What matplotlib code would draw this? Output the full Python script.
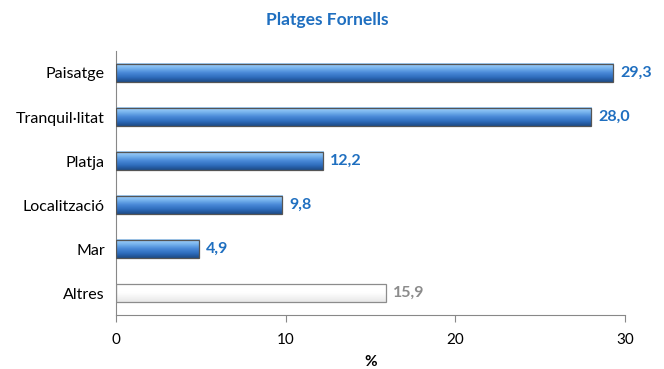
import matplotlib
matplotlib.use("Agg")
import matplotlib.pyplot as plt
import numpy as np
from matplotlib.colors import LinearSegmentedColormap

plt.rcParams['font.family'] = ['Lato', 'DejaVu Sans']

categories = ["Paisatge", "Tranquil·litat", "Platja", "Localització", "Mar", "Altres"]
values = [29.3, 28.0, 12.2, 9.8, 4.9, 15.9]
labels = ["29,3", "28,0", "12,2", "9,8", "4,9", "15,9"]
xticks = [0, 10, 20, 30]

fig = plt.figure(figsize=(6.64, 3.69), dpi=100)
ax = fig.add_axes([0.1747, 0.1463, 0.7666, 0.7155])

n = len(categories)
ypos = np.arange(n)
bar_h = 0.42

cmap_blue = LinearSegmentedColormap.from_list(
    "b", ["#1d4a86", "#2f6dbd", "#4a8ad8", "#7ab6ef", "#a9d3fa"])
cmap_white = LinearSegmentedColormap.from_list("w", ["#e8e8e8", "#ffffff", "#ffffff"])

bars = ax.barh(ypos, values, height=bar_h, color='none',
               edgecolor='#555555', linewidth=0.9, zorder=3)
grad = np.linspace(0, 1, 64).reshape(-1, 1)
for i, (b, v) in enumerate(zip(bars, values)):
    x0, y0 = b.get_x(), b.get_y()
    w, h = b.get_width(), b.get_height()
    cm = cmap_white if categories[i] == "Altres" else cmap_blue
    ax.imshow(grad, aspect='auto', cmap=cm, origin='upper',
              extent=[x0, x0 + w, y0, y0 + h], zorder=2, interpolation='bicubic')
    if categories[i] == "Altres":
        b.set_edgecolor('#8c8c8c')
        col = '#8c8c8c'
    else:
        col = '#1f6fc0'
    ax.text(v + 0.4, i, labels[i], va='center', ha='left', fontsize=11.5,
            fontweight='bold', color=col)

ax.set_ylim(n - 0.5, -0.5)
ax.set_xlim(0, 30)
ax.set_yticks(ypos)
ax.set_yticklabels(categories, fontsize=11.5)
ax.tick_params(axis='y', length=0, pad=8)
ax.set_xticks(xticks)
ax.set_xticklabels([str(t) for t in xticks], fontsize=11)
ax.tick_params(axis='x', length=5, direction='out', color='#888888', pad=8)
for s in ['top', 'right']:
    ax.spines[s].set_visible(False)
ax.spines['left'].set_color('#888888')
ax.spines['bottom'].set_color('#888888')
ax.set_xlabel('%', fontsize=11, fontweight='bold', labelpad=6)
fig.text(0.493, 0.945, 'Platges Fornells', ha='center', va='center',
         fontsize=12.5, fontweight='bold', color='#1f6fc0')

fig.savefig('out.png', dpi=100)
